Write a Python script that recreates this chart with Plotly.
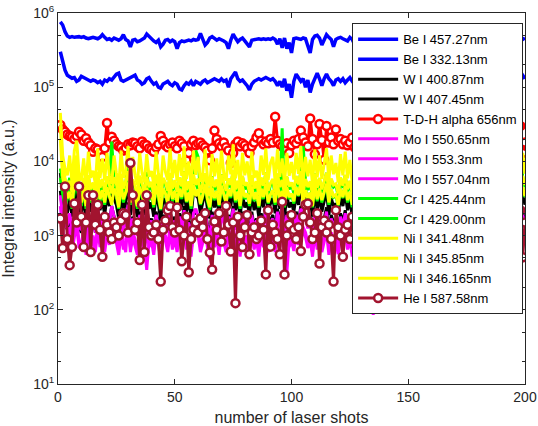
import plotly.graph_objects as go

shots = list(range(1, 201))

be457 = [7.6e5, 6.9e5, 5.6e5, 4.9e5, 4.7e5, 4.8e5, 4.7e5, 4.8e5, 4.8e5, 4.7e5,
         4.8e5, 4.6e5, 4.5e5, 4.6e5, 4.7e5, 4.6e5, 4.5e5, 4.7e5, 5.1e5, 4.7e5,
         4.4e5, 4.5e5, 4.3e5, 4.6e5, 4.4e5, 4.3e5, 4.5e5, 5.1e5, 4.4e5, 4.2e5,
         3.5e5, 4.3e5, 4.4e5, 4.1e5, 4.2e5, 4.4e5, 4.6e5, 5.2e5, 4.8e5, 4.4e5,
         4.2e5, 4.0e5, 4.3e5, 3.5e5, 3.8e5, 4.3e5, 4.4e5, 4.1e5, 4.3e5, 4.1e5,
         3.3e5, 4.0e5, 4.2e5, 4.1e5, 4.2e5, 4.3e5, 4.2e5, 4.4e5, 4.3e5, 4.4e5,
         5.3e5, 4.5e5, 3.7e5, 4.0e5, 4.6e5, 4.8e5, 4.6e5, 4.3e5, 4.5e5, 4.4e5,
         4.2e5, 4.0e5, 3.3e5, 4.3e5, 5.2e5, 4.6e5, 4.1e5, 4.4e5, 4.6e5, 4.2e5,
         3.9e5, 3.5e5, 4.3e5, 4.4e5, 4.5e5, 4.5e5, 4.4e5, 4.5e5, 4.4e5, 4.5e5,
         4.4e5, 4.6e5, 4.4e5, 3.8e5, 4.5e5, 3.4e5, 4.6e5, 3.3e5, 4.0e5, 2.9e5,
         4.5e5, 4.6e5, 4.5e5, 4.4e5, 4.6e5, 4.5e5, 3.6e5, 2.9e5, 4.4e5, 4.9e5,
         5.0e5, 4.6e5, 3.7e5, 4.5e5, 5.1e5, 4.7e5, 4.4e5, 3.5e5, 4.4e5, 4.6e5,
         4.7e5, 4.5e5, 4.4e5, 4.2e5, 4.7e5, 4.4e5, 3.8e5, 4.6e5, 4.5e5, 4.3e5,
         4.5e5, 4.1e5, 4.6e5, 4.4e5, 3.6e5, 4.5e5, 4.7e5, 4.3e5, 4.4e5, 4.6e5,
         4.3e5, 4.5e5, 4.4e5, 3.9e5, 4.6e5, 4.5e5, 4.2e5, 4.4e5, 4.7e5, 4.3e5,
         4.4e5, 4.1e5, 4.5e5, 4.6e5, 4.3e5, 3.7e5, 4.5e5, 4.4e5, 4.6e5, 4.2e5,
         4.5e5, 4.4e5, 4.3e5, 4.8e5, 4.4e5, 4.0e5, 4.5e5, 4.3e5, 4.6e5, 4.4e5,
         4.2e5, 4.5e5, 4.4e5, 3.8e5, 4.6e5, 4.4e5, 4.3e5, 4.5e5, 4.2e5, 4.6e5,
         4.4e5, 4.3e5, 4.7e5, 4.5e5, 4.1e5, 4.4e5, 4.6e5, 4.3e5, 4.5e5, 4.4e5,
         4.2e5, 4.6e5, 4.4e5, 4.5e5, 4.3e5, 5.0e5, 4.4e5, 4.6e5, 4.4e5, 4.6e5]

be332 = [3.0e5, 2.2e5, 1.7e5, 1.45e5, 1.38e5, 1.32e5, 1.35e5, 1.2e5, 1.25e5, 1.4e5,
         1.35e5, 1.3e5, 1.28e5, 1.2e5, 1.25e5, 1.22e5, 1.15e5, 1.2e5, 1.1e5, 1.25e5,
         1.2e5, 1.3e5, 1.25e5, 1.4e5, 1.5e5, 1.55e5, 1.25e5, 1.2e5, 1.25e5, 1.3e5,
         1.35e5, 1.4e5, 1.45e5, 1.25e5, 1.2e5, 1.1e5, 1.15e5, 1.3e5, 1.35e5, 1.2e5,
         1.1e5, 1.15e5, 1.0e5, 0.97e5, 1.1e5, 1.15e5, 1.2e5, 1.1e5, 1.05e5, 1.15e5,
         1.1e5, 0.95e5, 0.92e5, 1.05e5, 1.15e5, 1.1e5, 1.2e5, 1.05e5, 1.2e5, 1.15e5,
         1.1e5, 1.2e5, 1.25e5, 1.15e5, 1.2e5, 1.25e5, 1.3e5, 1.25e5, 1.2e5, 1.3e5,
         1.2e5, 1.25e5, 1.0e5, 1.3e5, 1.45e5, 1.6e5, 1.3e5, 1.2e5, 1.25e5, 1.15e5,
         1.05e5, 0.92e5, 1.1e5, 1.2e5, 1.25e5, 1.3e5, 1.25e5, 1.3e5, 1.35e5, 1.3e5,
         1.25e5, 1.3e5, 1.2e5, 1.05e5, 1.2e5, 1.0e5, 1.3e5, 0.9e5, 1.1e5, 0.72e5,
         1.2e5, 1.5e5, 1.35e5, 1.2e5, 1.3e5, 1.0e5, 1.25e5, 0.85e5, 1.1e5, 1.35e5,
         1.55e5, 1.3e5, 1.05e5, 1.3e5, 1.5e5, 1.3e5, 1.2e5, 1.05e5, 1.25e5, 1.3e5,
         1.2e5, 1.3e5, 1.15e5, 1.25e5, 1.35e5, 1.2e5, 1.1e5, 1.3e5, 1.25e5, 1.15e5,
         1.2e5, 1.05e5, 1.3e5, 1.2e5, 1.0e5, 1.25e5, 1.35e5, 1.2e5, 1.15e5, 1.3e5,
         1.2e5, 1.25e5, 1.1e5, 1.3e5, 1.2e5, 1.05e5, 1.25e5, 1.3e5, 1.15e5, 1.2e5,
         1.3e5, 1.1e5, 1.25e5, 1.35e5, 1.2e5, 1.0e5, 1.25e5, 1.15e5, 1.3e5, 1.2e5,
         1.25e5, 1.1e5, 1.3e5, 1.2e5, 1.15e5, 1.25e5, 1.35e5, 1.2e5, 1.1e5, 1.25e5,
         1.3e5, 1.15e5, 1.2e5, 1.05e5, 1.25e5, 1.3e5, 1.2e5, 1.15e5, 1.25e5, 1.2e5,
         1.1e5, 1.25e5, 1.3e5, 1.2e5, 1.15e5, 1.3e5, 1.2e5, 1.1e5, 1.25e5, 1.3e5,
         1.15e5, 1.2e5, 1.25e5, 1.1e5, 1.3e5, 1.2e5, 1.25e5, 1.35e5, 1.45e5, 1.3e5]

w400 = [7000, 3500, 2500, 2000, 3200, 1800, 3000, 4500, 2200, 1900, 3300, 1700, 3600, 2100, 2700, 1800, 3900, 2200, 3000, 1900,
        3400, 2500, 4200, 3100, 2600, 1700, 3700, 2100, 2900, 4800, 1900, 3100, 2500, 1800, 3500, 2700, 1900, 4100, 2300, 2800,
        1800, 3600, 2600, 1600, 3200, 2800, 2000, 3900, 2200, 3000, 2000, 3400, 2400, 4200, 2100, 2900, 1800, 3800, 3500, 3200,
        2000, 2700, 3900, 2300, 1700, 3500, 2400, 3100, 1900, 3700, 2700, 2000, 3300, 2500, 4300, 2200, 3000, 1800, 3600, 2400,
        2800, 1900, 3600, 2200, 2900, 1800, 3400, 2400, 4000, 2100, 2700, 3200, 2000, 3800, 2300, 4500, 1800, 3500, 2400, 2800,
        2100, 3500, 2600, 4200, 3800, 3200, 2300, 3000, 1800, 3900, 2200, 3300, 2100, 2900, 4000, 1900, 3200, 2500, 2700, 1900,
        3400, 2500, 3700, 2200, 3000, 1800, 3600, 2400, 2800, 3900, 2000, 3100, 2300, 3000, 1800, 3700, 2600, 3100, 2000, 3500,
        2200, 2800, 3800, 2100, 3300, 2500, 3100, 1900, 3600, 2400, 2800, 3500, 2000, 3000, 2600, 3900, 2200, 3200, 2300, 2900,
        1800, 3400, 2500, 3700, 2100, 3000, 2400, 3500, 2000, 2800, 4000, 2200, 3200, 2000, 2900, 2600, 3600, 1800, 3300, 2400,
        3000, 2000, 3800, 2400, 3300, 2100, 2800, 4100, 2200, 3400, 1900, 3100, 2500, 3700, 2100, 3300, 2300, 3000, 3500, 2600]

w407 = [4000, 2000, 1500, 1200, 1900, 1100, 1800, 2600, 1300, 1100, 2000, 1000, 2100, 1300, 1600, 1100, 2300, 1300, 1800, 1100,
        2000, 1500, 2500, 1800, 1500, 1000, 2200, 1200, 1700, 2800, 1100, 1800, 1500, 1100, 2100, 1600, 1100, 2400, 1400, 1700,
        1100, 2100, 1500, 950, 1900, 1600, 1200, 2300, 1300, 1800, 1200, 2000, 1400, 2500, 1200, 1700, 1000, 2200, 2000, 1900,
        1200, 1600, 2300, 1400, 1000, 2100, 1400, 1800, 1100, 2200, 1600, 1200, 1900, 1500, 2500, 1300, 1800, 1000, 2100, 1400,
        1700, 1100, 2100, 1300, 1700, 1000, 2000, 1400, 2400, 1200, 1600, 1900, 1200, 2300, 1400, 2700, 1000, 2100, 1400, 1700,
        1200, 2100, 1500, 2500, 2200, 1900, 1300, 1800, 1000, 2300, 1300, 2000, 1200, 1700, 2400, 1100, 1900, 1500, 1600, 1100,
        2000, 1500, 2200, 1300, 1800, 1000, 2100, 1400, 1700, 2300, 1200, 1800, 1400, 1800, 1000, 2200, 1500, 1800, 1200, 2100,
        1300, 1700, 2300, 1200, 2000, 1500, 1800, 1100, 2100, 1400, 1700, 2100, 1200, 1800, 1500, 2300, 1300, 1900, 1400, 1700,
        1000, 2000, 1500, 2200, 1200, 1800, 1400, 2100, 1200, 1600, 2400, 1300, 1900, 1200, 1700, 1500, 2100, 1000, 2000, 1400,
        1800, 1200, 2200, 1400, 1900, 1200, 1600, 2400, 1300, 2000, 1100, 1800, 1500, 2200, 1200, 1900, 1400, 1800, 2100, 1500]

tdh656 = [31000, 27000, 25000, 23000, 22000, 21500, 20000, 22000, 25000, 23000, 19000, 20500, 18000, 16500, 13500, 15000, 14500, 13000, 11500, 15000,
          33000, 18000, 21500, 19000, 17000, 16000, 15500, 14000, 15000, 17000, 16500, 18000, 17500, 16000, 15000, 18500, 17000, 16500, 15000, 14500,
          13500, 15500, 17000, 22000, 19000, 16500, 15500, 17000, 18000, 16000, 15000, 19000, 17500, 16000, 10400, 13000, 17000, 19000, 16500, 17500,
          18000, 16500, 15500, 14000, 10400, 15000, 26000, 20000, 17500, 16000, 18000, 15500, 14000, 9500, 13000, 17000, 18500, 16000, 17500, 16500,
          15000, 13000, 16000, 18000, 21000, 24000, 19000, 17000, 18500, 17500, 20000, 18000, 40000, 19000, 17000, 16000, 15000, 17500, 13000, 16500,
          19000, 17500, 20000, 26000, 21000, 18000, 16000, 38000, 20000, 12500, 17000, 32000, 19500, 10500, 30000, 18000, 21000, 17000, 27000, 19000,
          20000, 17000, 19000, 16500, 18000, 21000, 15500, 17500, 19000, 16000, 18500, 20500, 17000, 15000, 19500, 18000, 16500, 21000, 17500, 16000,
          18000, 19500, 15500, 17000, 22000, 18500, 16000, 19000, 17500, 15000, 20000, 18000, 16500, 19500, 17000, 21500, 16000, 18500, 17000, 19000,
          15500, 18000, 20500, 17000, 16000, 19000, 22000, 17500, 15500, 18500, 20000, 16500, 19000, 17000, 15000, 21000, 18000, 16500, 19500, 17500,
          16000, 20000, 18500, 15500, 19000, 17000, 22000, 18000, 16500, 19500, 17000, 21000, 18000, 15500, 20000, 24000, 28000, 30000, 13000, 18000]

mo550 = [2500, 1200, 800, 900, 1300, 700, 1100, 1600, 850, 750, 1200, 650, 1300, 800, 1000, 700, 1400, 850, 1100, 700,
         1250, 900, 1500, 1150, 950, 650, 1300, 800, 600, 1600, 700, 1100, 900, 650, 1200, 950, 700, 345, 850, 1000,
         650, 1250, 900, 550, 1100, 1000, 700, 1350, 800, 1050, 700, 1150, 850, 1400, 750, 1000, 600, 1300, 1500, 1200,
         700, 950, 1350, 800, 550, 1200, 850, 1100, 650, 1250, 950, 700, 1150, 900, 1500, 750, 1050, 600, 1200, 850,
         1000, 650, 1250, 750, 1050, 600, 1150, 850, 1400, 700, 950, 1100, 700, 1300, 800, 1600, 600, 320, 850, 1000,
         750, 1200, 900, 1450, 1300, 1100, 800, 1000, 600, 1300, 750, 1150, 700, 1000, 1350, 650, 1100, 900, 950, 650,
         1200, 850, 1300, 750, 1050, 600, 1250, 850, 1000, 1350, 700, 1100, 800, 1050, 85, 1250, 900, 1050, 650, 1150,
         750, 950, 1300, 700, 1150, 850, 1050, 600, 1250, 800, 950, 1200, 650, 1000, 900, 1350, 750, 1100, 800, 1000,
         600, 1200, 850, 1300, 700, 1050, 800, 1250, 650, 950, 1400, 750, 1100, 650, 1000, 900, 1250, 600, 1150, 800,
         1050, 700, 1300, 800, 1100, 700, 950, 1400, 750, 1150, 650, 200, 850, 1250, 250, 1100, 800, 1000, 1200, 900]

mo553 = [3500, 1800, 1300, 1400, 2000, 1100, 1700, 2400, 1300, 1200, 1900, 1000, 2000, 1300, 1600, 1100, 2200, 1300, 1700, 1100,
         1900, 1400, 2500, 1800, 1500, 1000, 2000, 1200, 1600, 2600, 1100, 1700, 1400, 1000, 1900, 1500, 1100, 2200, 1300, 1600,
         1000, 1900, 1400, 900, 1700, 1500, 1100, 2100, 1200, 1600, 1100, 1800, 1300, 2200, 1200, 1500, 950, 2000, 2300, 1800,
         1100, 1500, 2100, 1300, 900, 1900, 1300, 1700, 1000, 2000, 1500, 1100, 1800, 1400, 2300, 1200, 1600, 950, 1900, 1300,
         1600, 1000, 1900, 1200, 1600, 950, 1800, 1300, 2200, 1100, 1500, 1700, 1100, 2100, 1300, 2500, 950, 1900, 1300, 1600,
         1150, 1900, 1400, 2300, 2000, 1700, 1250, 1600, 950, 2000, 1200, 1800, 1100, 1600, 2100, 1000, 1700, 1400, 1500, 1050,
         1800, 1300, 2000, 1200, 1600, 950, 1900, 1300, 1550, 2100, 1100, 1700, 1250, 1650, 950, 1950, 1400, 1600, 1050, 1800,
         1200, 1500, 2000, 1100, 1800, 1350, 1650, 1000, 1900, 1250, 1500, 1850, 1050, 1600, 1400, 2100, 1200, 1700, 1300, 1550,
         950, 1850, 1350, 2000, 1150, 1650, 1300, 1900, 1100, 1500, 2200, 1200, 1750, 1050, 1600, 1400, 1950, 950, 1800, 1300,
         1650, 1100, 2000, 1300, 1750, 1100, 1500, 2200, 1200, 1800, 1050, 1650, 1350, 1950, 1150, 1750, 1300, 1600, 1900, 1400]

mo557 = [2000, 1000, 700, 750, 1100, 600, 950, 1300, 700, 650, 1050, 550, 1100, 700, 850, 600, 1200, 700, 950, 600,
         1050, 750, 1300, 1000, 800, 550, 1100, 650, 850, 1400, 600, 950, 750, 550, 1050, 800, 600, 1200, 700, 850,
         550, 1050, 750, 480, 950, 850, 600, 1150, 650, 900, 600, 1000, 700, 1200, 650, 850, 520, 1100, 1250, 1000,
         600, 800, 1150, 700, 480, 1050, 700, 950, 550, 1100, 800, 600, 1000, 750, 1300, 650, 900, 520, 1050, 700,
         850, 550, 1050, 650, 900, 520, 1000, 700, 1200, 600, 800, 950, 600, 1150, 700, 1350, 520, 1050, 700, 850,
         620, 1050, 750, 1250, 1100, 950, 680, 880, 520, 1100, 650, 1000, 600, 880, 1150, 550, 950, 750, 800, 560,
         1000, 720, 1100, 650, 900, 520, 1050, 720, 850, 1150, 600, 950, 680, 900, 520, 1080, 760, 880, 580, 1000,
         650, 820, 1100, 600, 980, 740, 900, 550, 1050, 680, 820, 1020, 570, 880, 760, 1150, 650, 940, 700, 850,
         520, 1020, 740, 1100, 620, 900, 700, 1050, 600, 820, 1200, 650, 960, 570, 880, 760, 1080, 520, 980, 700,
         900, 600, 1100, 700, 960, 600, 820, 1200, 650, 980, 570, 900, 740, 1080, 620, 960, 700, 880, 1050, 760]

cr425 = [8000, 5000, 3500, 4200, 6000, 3000, 5500, 7000, 4000, 3300, 5800, 3100, 6300, 3700, 4800, 3200, 6700, 3900, 5200, 3400,
         6000, 4300, 18500, 5600, 4600, 3000, 6400, 3800, 5100, 8800, 3400, 5400, 4400, 3100, 6100, 4700, 3300, 7200, 4100, 5000,
         3200, 6200, 4500, 2900, 5700, 4900, 3500, 6900, 3900, 5300, 3600, 5900, 4200, 7400, 3700, 5100, 3100, 6600, 14000, 11500,
         3500, 4700, 6800, 4000, 3000, 6300, 4100, 5500, 3300, 6700, 4600, 3600, 5800, 4400, 7600, 3800, 5200, 3100, 6200, 4200,
         4900, 3400, 6300, 3900, 5100, 3200, 5900, 4300, 7100, 3600, 4800, 5500, 3500, 6800, 4000, 28000, 3300, 6100, 4200, 4900,
         3700, 6200, 4600, 7300, 16000, 5600, 4100, 5200, 3200, 6900, 4000, 5800, 3800, 5100, 7000, 3500, 5700, 4500, 4800, 3400,
         6000, 4400, 6500, 3900, 5300, 3300, 6400, 4200, 5000, 6900, 3600, 5600, 4000, 5200, 3200, 6500, 4600, 5400, 3500, 6100,
         4000, 4900, 6700, 3800, 5800, 4400, 5500, 3400, 6300, 4200, 4900, 6200, 3500, 5200, 4700, 6900, 3900, 5700, 4100, 5100,
         3300, 6000, 4500, 6500, 3800, 5300, 4300, 6200, 3600, 5000, 7000, 4000, 5600, 3500, 5200, 4600, 6400, 3300, 5900, 4300,
         5400, 3600, 6700, 4200, 5800, 3900, 4900, 7100, 4000, 6000, 3500, 5500, 4400, 6500, 3800, 5800, 4100, 13000, 6200, 4500]

cr429 = [6000, 3600, 2600, 3100, 4300, 2300, 4000, 5000, 3000, 2500, 4200, 2300, 4500, 2800, 3500, 2400, 4800, 2900, 3800, 2600,
         4400, 3200, 6000, 4000, 3400, 2300, 4600, 2800, 3700, 6300, 2600, 3900, 3200, 2300, 4400, 3400, 2500, 5200, 3000, 3600,
         2400, 4500, 3300, 2200, 4100, 3600, 2600, 5000, 2900, 3800, 2700, 4300, 3100, 5300, 2800, 3700, 2300, 4800, 5000, 4200,
         2600, 3400, 4900, 2900, 2200, 4500, 3000, 4000, 2500, 4800, 3400, 2700, 4200, 3200, 5500, 2800, 3800, 2300, 4500, 3100,
         3600, 2500, 4600, 2900, 3700, 2400, 4300, 3100, 5100, 2700, 3500, 4000, 2600, 4900, 2900, 7000, 2400, 4400, 3100, 3600,
         2700, 4500, 3400, 5300, 6000, 4100, 3000, 3800, 2400, 5000, 2900, 4200, 2800, 3700, 5100, 2600, 4100, 3300, 3500, 2500,
         4300, 3200, 4700, 2800, 3800, 2400, 4600, 3100, 3600, 5000, 2600, 4000, 2900, 3800, 2400, 4700, 3300, 3900, 2600, 4400,
         2900, 3600, 4900, 2800, 4200, 3200, 4000, 2500, 4600, 3100, 3600, 4500, 2600, 3800, 3400, 5000, 2800, 4100, 3000, 3700,
         2400, 4400, 3300, 4700, 2800, 3900, 3100, 4500, 2600, 3600, 5100, 2900, 4100, 2600, 3800, 3400, 4600, 2400, 4300, 3100,
         3900, 2600, 4900, 3100, 4200, 2800, 3600, 5200, 2900, 4400, 2500, 4000, 3200, 4700, 2800, 4200, 3000, 3800, 4500, 3300]

ni341 = [45000, 12000, 8000, 6500, 12000, 5000, 14000, 19000, 7000, 5500, 11000, 4500, 13500, 6000, 7500, 5000, 15000, 6000, 11000, 5500,
         13000, 6500, 5000, 12000, 7000, 4500, 14000, 6000, 7500, 16000, 5500, 11500, 6500, 4800, 13000, 7000, 5200, 12500, 6200, 7400,
         5000, 13500, 6800, 4600, 12000, 7200, 5600, 15000, 6000, 10500, 5400, 12500, 6400, 16000, 5800, 10000, 4900, 14000, 6600, 11500,
         5300, 7000, 14500, 6100, 4700, 12500, 6300, 11000, 5100, 14000, 6900, 5500, 12000, 6700, 17000, 5900, 10500, 4800, 13000, 6500,
         10000, 5200, 13500, 6000, 7500, 4900, 12000, 6600, 15000, 5600, 9500, 11500, 5400, 14500, 6200, 11000, 5000, 13000, 6400, 9800,
         5700, 13000, 6800, 16000, 5300, 11500, 6300, 10500, 4900, 14500, 6100, 12000, 5800, 10000, 15000, 5500, 12000, 6700, 9500, 5200,
         12500, 6500, 13500, 5900, 10500, 5100, 13000, 6400, 9800, 14500, 5600, 11500, 6200, 10000, 5000, 13500, 6900, 11000, 5400, 12500,
         6000, 9800, 14000, 5700, 12000, 6600, 10500, 5300, 13500, 6300, 9500, 12500, 5500, 10000, 6800, 14500, 5900, 11500, 6100, 10000,
         5200, 12500, 6700, 14000, 5800, 10500, 6400, 13000, 5400, 9800, 15000, 6200, 11500, 5600, 10000, 6900, 13500, 5100, 12000, 6500,
         10500, 5500, 14500, 6300, 12000, 5900, 9500, 15500, 6000, 12500, 5300, 11000, 6600, 13500, 5700, 12000, 6100, 10000, 13000, 6800]

ni345 = [30000, 9000, 6000, 4500, 5500, 3800, 7000, 12000, 4800, 4000, 6000, 3500, 6500, 4200, 5200, 3600, 7200, 4400, 5800, 3900,
         6300, 4600, 3700, 6100, 5000, 3400, 6800, 4300, 5400, 7400, 3900, 5700, 4700, 3500, 6400, 5100, 3800, 6200, 4500, 5300,
         3600, 6600, 4900, 3300, 6000, 5200, 4000, 7000, 4300, 5600, 3900, 6100, 4600, 7300, 4100, 5400, 3500, 6700, 4800, 5900,
         3800, 5000, 6900, 4400, 3400, 6200, 4500, 5700, 3700, 6600, 5000, 4000, 5900, 4800, 7700, 4200, 5500, 3500, 6400, 4700,
         5200, 3800, 6500, 4300, 5400, 3500, 6100, 4700, 7100, 4000, 5100, 5800, 3900, 6900, 4500, 5600, 3600, 6300, 4600, 5200,
         4100, 6400, 4900, 7400, 3800, 5800, 4500, 5400, 3500, 6800, 4400, 6000, 4200, 5300, 7000, 3900, 5900, 4800, 5000, 3700,
         6100, 4700, 6600, 4200, 5500, 3700, 6400, 4600, 5200, 6900, 4000, 5700, 4400, 5400, 3600, 6500, 4900, 5600, 3900, 6200,
         4300, 5100, 6700, 4100, 5900, 4700, 5600, 3800, 6400, 4500, 5100, 6300, 3900, 5400, 4900, 6900, 4200, 5800, 4400, 5300,
         3700, 6100, 4800, 6600, 4200, 5500, 4600, 6400, 3900, 5200, 7100, 4400, 5700, 4000, 5400, 4900, 6500, 3700, 6000, 4600,
         5600, 3900, 6800, 4500, 5900, 4200, 5100, 7200, 4300, 6100, 3800, 5700, 4700, 6600, 4100, 5900, 4400, 5400, 6400, 4800]

ni346 = [20000, 6000, 4200, 3200, 3900, 2700, 5000, 8500, 3400, 2800, 4300, 2500, 4600, 3000, 3700, 2600, 5100, 3100, 4100, 2800,
         4500, 3300, 2600, 4300, 3600, 2400, 4800, 3100, 3800, 5200, 2800, 4000, 3300, 2500, 4500, 3600, 2700, 4400, 3200, 3800,
         2600, 4700, 3500, 2300, 4300, 3700, 2800, 5000, 3100, 4000, 2800, 4300, 3300, 5200, 2900, 3800, 2500, 4800, 3400, 4200,
         2700, 3500, 4900, 3100, 2400, 4400, 3200, 4000, 2600, 4700, 3500, 2800, 4200, 3400, 5500, 3000, 3900, 2500, 4600, 3300,
         3700, 2700, 4600, 3100, 3800, 2500, 4300, 3300, 5000, 2800, 3600, 4100, 2800, 4900, 3200, 4000, 2600, 4500, 3300, 3700,
         2900, 4500, 3500, 5300, 2700, 4100, 3200, 3800, 2500, 4800, 3100, 4300, 3000, 3800, 5000, 2800, 4200, 3400, 3600, 2600,
         4300, 3300, 4700, 3000, 3900, 2600, 4600, 3300, 3700, 4900, 2800, 4100, 3100, 3800, 2600, 4600, 3500, 4000, 2800, 4400,
         3100, 3600, 4800, 2900, 4200, 3300, 4000, 2700, 4500, 3200, 3600, 4500, 2800, 3800, 3500, 4900, 3000, 4100, 3100, 3800,
         2600, 4300, 3400, 4700, 3000, 3900, 3300, 4500, 2800, 3700, 5000, 3100, 4100, 2800, 3800, 3500, 4600, 2600, 4300, 3300,
         4000, 2800, 4800, 3200, 4200, 3000, 3600, 5100, 3100, 4300, 2700, 4100, 3300, 4700, 2900, 4200, 3100, 3800, 4500, 3400]

he587 = [1700, 680, 4600, 900, 400, 700, 2700, 1500, 4600, 1800, 700, 1500, 3500, 600, 3500, 1400, 2600, 1200, 520, 1800,
         1400, 1100, 900, 1500, 1300, 1000, 1600, 2000, 1900, 1100, 9500, 3500, 1200, 1500, 470, 2600, 600, 3500, 1300, 1000,
         1100, 1400, 900, 240, 1200, 1600, 2200, 2500, 1300, 1100, 2400, 1200, 450, 1000, 1800, 320, 900, 1200, 1500, 1100,
         1700, 1300, 2000, 900, 590, 350, 1550, 1200, 2000, 830, 1100, 2500, 1400, 610, 1500, 123, 1800, 1000, 700, 1300,
         1900, 560, 1100, 1300, 900, 1000, 1600, 1200, 300, 2200, 710, 1400, 1100, 900, 560, 2850, 300, 1000, 1400, 1900,
         1200, 900, 1300, 620, 1800, 2600, 2700, 1500, 900, 1100, 2000, 420, 1300, 1600, 1100, 1400, 900, 240, 2200, 1300,
         1000, 520, 1200, 1400, 900, 1800, 1100, 700, 215, 1300, 1600, 900, 1200, 1900, 260, 1100, 800, 1500, 1000, 1300,
         700, 1700, 1100, 900, 1400, 2000, 1200, 800, 1500, 1000, 1300, 600, 1800, 1100, 900, 1400, 1200, 700, 1600, 1000,
         1300, 215, 1100, 1500, 900, 1200, 130, 1700, 1000, 800, 1400, 200, 1100, 1600, 900, 1300, 115, 1500, 1000, 1200,
         800, 250, 1400, 300, 1100, 1700, 900, 1300, 1000, 1500, 700, 1200, 1800, 1000, 1400, 900, 1600, 2200, 510, 1500]

series = [
    ("Be I 457.27nm", be457, "#0000FF", 3.5, False),
    ("Be I 332.13nm", be332, "#0000FF", 3.5, False),
    ("W I 400.87nm", w400, "#000000", 3, False),
    ("W I 407.45nm", w407, "#000000", 3, False),
    ("T-D-H alpha 656nm", tdh656, "#FF0000", 3, True),
    ("Mo I 550.65nm", mo550, "#FF00FF", 3, False),
    ("Mo I 553.3nm", mo553, "#FF00FF", 3, False),
    ("Mo I 557.04nm", mo557, "#FF00FF", 3, False),
    ("Cr I 425.44nm", cr425, "#00FF00", 3, False),
    ("Cr I 429.00nm", cr429, "#00FF00", 3, False),
    ("Ni I 341.48nm", ni341, "#FFFF00", 3, False),
    ("Ni I 345.85nm", ni345, "#FFFF00", 3, False),
    ("Ni I 346.165nm", ni346, "#FFFF00", 3, False),
    ("He I 587.58nm", he587, "#A2142F", 3, True),
]

for name, vals, *_ in series:
    assert len(vals) == 200, (name, len(vals))

fig = go.Figure()
for name, vals, color, width, markers in series:
    if markers:
        fig.add_trace(go.Scatter(
            x=shots, y=vals, name=name, mode="lines+markers",
            line=dict(color=color, width=width),
            marker=dict(symbol="circle", size=8, color="white",
                        line=dict(color=color, width=2.5))))
    else:
        fig.add_trace(go.Scatter(
            x=shots, y=vals, name=name, mode="lines",
            line=dict(color=color, width=width)))

font_family = "Liberation Sans, Arial, Helvetica, sans-serif"
axis_color = "#262626"

ytick_vals = [10, 100, 1000, 10000, 100000, 1000000]
ytick_text = ["10<sup>1</sup>", "10<sup>2</sup>", "10<sup>3</sup>",
              "10<sup>4</sup>", "10<sup>5</sup>", "10<sup>6</sup>"]

fig.update_layout(
    width=538, height=426,
    margin=dict(l=58, r=13, t=13, b=42, autoexpand=False),
    paper_bgcolor="white", plot_bgcolor="white",
    font=dict(family=font_family, size=14, color=axis_color),
    showlegend=True,
    legend=dict(
        x=0.996, y=0.972, xanchor="right", yanchor="top",
        bgcolor="white", bordercolor="#262626", borderwidth=1,
        font=dict(family=font_family, size=13, color="#000000"),
        tracegroupgap=0, itemwidth=40,
    ),
    xaxis=dict(
        range=[0, 200], tickvals=[0, 50, 100, 150, 200],
        ticks="inside", ticklen=5, tickcolor=axis_color,
        showline=True, linecolor=axis_color, linewidth=1, mirror="ticks",
        showgrid=False, zeroline=False, automargin=False,
        title=dict(text="number of laser shots", font=dict(size=16)),
        tickfont=dict(size=14),
    ),
    yaxis=dict(
        type="log", range=[1, 6],
        tickvals=ytick_vals, ticktext=ytick_text,
        ticks="inside", ticklen=5, tickcolor=axis_color,
        showline=True, linecolor=axis_color, linewidth=1, mirror="ticks",
        showgrid=False, zeroline=False, automargin=False,
        minor=dict(ticks="inside", ticklen=3, tickcolor=axis_color, showgrid=False),
        title=dict(text="Integral intensity (a.u.)", font=dict(size=16)),
        tickfont=dict(size=14),
    ),
)

fig.write_html("out.html")
